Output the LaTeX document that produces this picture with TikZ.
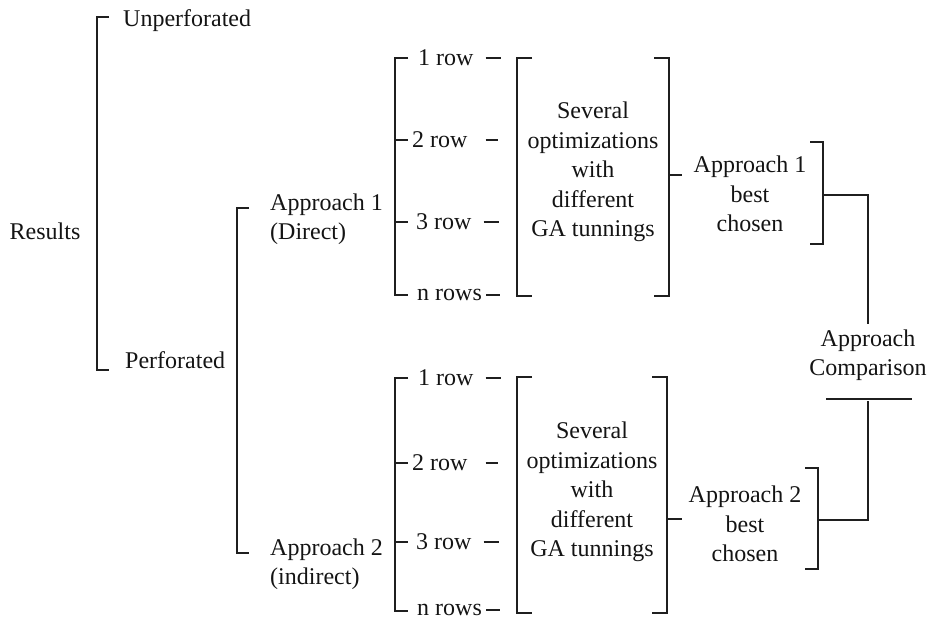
\documentclass[tikz,border=0pt]{standalone}
\usepackage{fontspec}
\setmainfont{Liberation Serif}
\begin{document}
\begin{tikzpicture}[x=1pt,y=-1pt,
  every node/.style={inner sep=0pt, text=black!92, yshift=-2pt,
    font=\fontsize{24}{29.5}\selectfont},
  brk/.style={line width=1.9pt, draw=black!88, line cap=butt, line join=miter},
  tick/.style={line width=1.7pt, draw=black!88},
  lft/.style={anchor=west, align=left},
  ctr/.style={anchor=center, align=center}]
\useasboundingbox (0,0) rectangle (930,621);

% ---------- first level: results ----------
\node (res) at (45,229) {Results};
\node[lft] (unp)  at (123,19)  {Unperforated};
\node[lft] (perf) at (125,358) {Perforated};
\draw[brk] (109,17) -- (97,17) -- (97,370) -- (109,370);

% ---------- second level: approaches ----------
\node[lft] (ap1) at (270,217) {Approach 1\\(Direct)};
\node[lft] (ap2) at (270,562) {Approach 2\\(indirect)};
\draw[brk] (249,208) -- (237,208) -- (237,553) -- (249,553);

% ---------- rows of approach 1 ----------
\draw[brk] (408,58) -- (395,58) -- (395,295) -- (408,295);
\draw[brk] (395,140) -- (408,140);
\draw[brk] (395,222) -- (408,222);
\node[lft] (ra1) at (418,56)  {1 row};
\node[lft] (ra2) at (412,138) {2 row};
\node[lft] (ra3) at (416,220) {3 row};
\node[lft] (ra4) at (417,293) {n rows};
\draw[tick] (ra1.east) ++(12,0) -- ++(15,0);
\draw[tick] (ra2.east) ++(18,0) -- ++(12,0);
\draw[tick] (ra3.east) ++(12,0) -- ++(15,0);
\draw[tick] (ra4.east) ++(4,0)  -- ++(14,0);

% ---------- rows of approach 2 ----------
\draw[brk] (408,378) -- (395,378) -- (395,611) -- (408,611);
\draw[brk] (395,463) -- (408,463);
\draw[brk] (395,542) -- (408,542);
\node[lft] (rb1) at (418,376) {1 row};
\node[lft] (rb2) at (412,461) {2 row};
\node[lft] (rb3) at (416,540) {3 row};
\node[lft] (rb4) at (417,608) {n rows};
\draw[tick] (rb1.east) ++(12,0) -- ++(15,0);
\draw[tick] (rb2.east) ++(18,0) -- ++(12,0);
\draw[tick] (rb3.east) ++(12,0) -- ++(15,0);
\draw[tick] (rb4.east) ++(4,0)  -- ++(14,0);

% ---------- optimisation blocks ----------
\node[ctr] (opt1) at (593,170)
  {Several\\optimizations\\with\\different\\GA tunnings};
\draw[brk] (532,58) -- (517,58) -- (517,296) -- (532,296);
\draw[brk] (654,58) -- (669,58) -- (669,296) -- (654,296);
\coordinate (o1) at (669,173);

\node[ctr] (opt2) at (592,490)
  {Several\\optimizations\\with\\different\\GA tunnings};
\draw[brk] (532,377) -- (517,377) -- (517,613) -- (532,613);
\draw[brk] (652,377) -- (667,377) -- (667,613) -- (652,613);
\coordinate (o2) at (667,517);

% ---------- best of each approach ----------
\node[ctr] (best1) at (750,192) {Approach 1\\best\\chosen};
\draw[brk] (810,142) -- (823,142) -- (823,244) -- (810,244);
\coordinate (b1) at (823,193);
\draw[brk] (o1) -- ++(13,0);

\node[ctr] (best2) at (745,522) {Approach 2\\best\\chosen};
\draw[brk] (805,468) -- (818,468) -- (818,569) -- (805,569);
\coordinate (b2) at (818,518);
\draw[brk] (o2) -- ++(15,0);

% ---------- comparison ----------
\node[ctr] (cmp) at (868,353) {Approach\\Comparison};
\coordinate (c1) at (868,322);
\coordinate (c2) at (868,399);
\draw[brk] (b1) -| (c1);
\draw[brk] (826,399) -- (912,399);
\draw[brk] (c2) |- (b2);
\end{tikzpicture}
\end{document}
